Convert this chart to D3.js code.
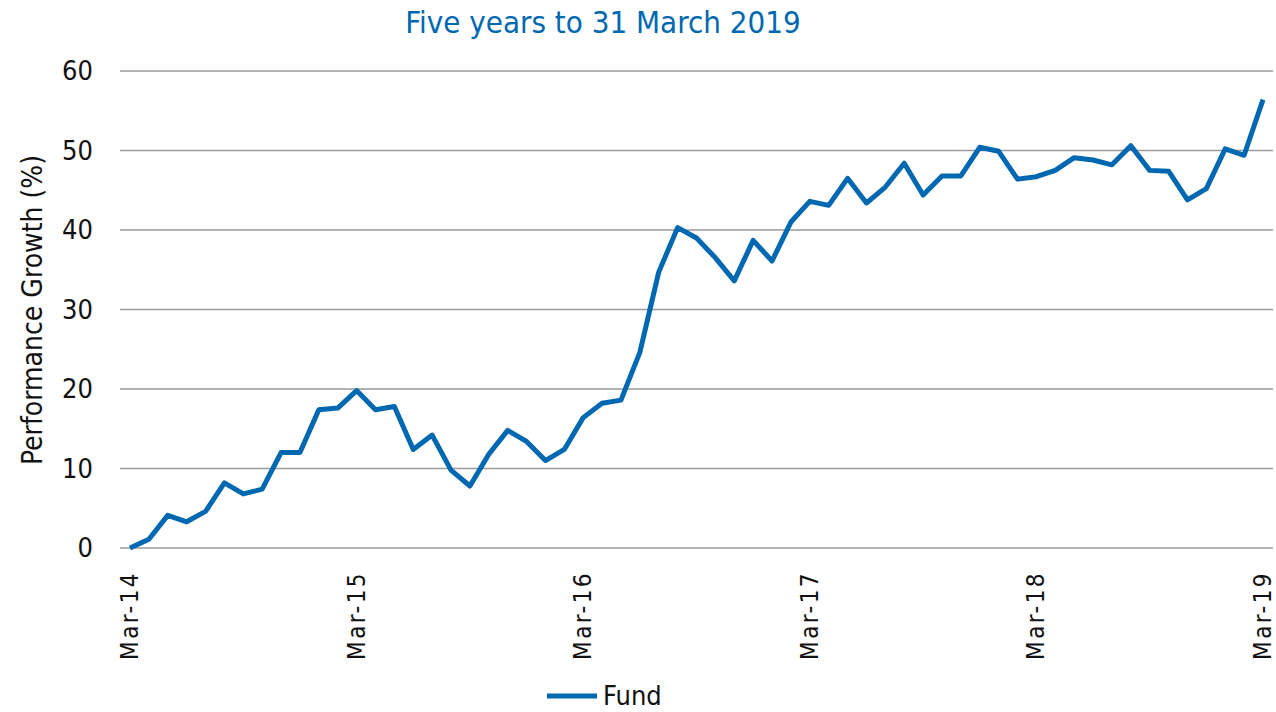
<!DOCTYPE html>
<html lang="en">
<head>
<meta charset="UTF-8">
<title>Performance Growth</title>
<script src="https://d3js.org/d3.v7.min.js"></script>
<style>
  body { margin: 0; background: #fff; }
  text { font-family: "Liberation Sans Narrow", "DejaVu Sans Condensed", "Roboto", sans-serif; }
</style>
</head>
<body>
<div id="chart"></div>
<script>
// monthly fund growth (%), Mar-14 .. Mar-19
const months = d3.range(61);
const fund = [
  0, 1.1, 4.1, 3.3, 4.6, 8.2, 6.8, 7.4, 12.0, 12.0,
  17.4, 17.6, 19.8, 17.4, 17.8, 12.4, 14.2, 9.8, 7.8, 11.8,
  14.8, 13.4, 11.0, 12.4, 16.4, 18.2, 18.6, 24.6, 34.7, 40.3,
  39.0, 36.5, 33.6, 38.7, 36.1, 41.0, 43.6, 43.1, 46.5, 43.4,
  45.4, 48.4, 44.4, 46.8, 46.8, 50.4, 49.9, 46.4, 46.7, 47.5,
  49.1, 48.8, 48.2, 50.6, 47.5, 47.4, 43.8, 45.2, 50.2, 49.4,
  56.4
];
const yTicks = [0, 10, 20, 30, 40, 50, 60];
const xTickIdx = [0, 12, 24, 36, 48, 60];
const xTickLabels = ["Mar-14", "Mar-15", "Mar-16", "Mar-17", "Mar-18", "Mar-19"];

const width = 1276, height = 712;
const blue = "#0068b0";

const svg = d3.select("#chart").append("svg")
  .attr("width", width)
  .attr("height", height);

const x = d3.scaleLinear().domain([0, 60]).range([130, 1263]);
const y = d3.scaleLinear().domain([0, 60]).range([548, 71]);

// gridlines
svg.append("g")
  .selectAll("line")
  .data(yTicks)
  .enter().append("line")
  .attr("x1", 120)
  .attr("x2", 1273)
  .attr("y1", d => y(d))
  .attr("y2", d => y(d))
  .attr("stroke", "#9a9a9a")
  .attr("stroke-width", 1.6);

// y labels
svg.append("g")
  .selectAll("text")
  .data(yTicks)
  .enter().append("text")
  .attr("x", 93)
  .attr("y", d => y(d))
  .attr("dy", "0.35em")
  .attr("text-anchor", "end")
  .style("font-size", "27px")
  .attr("fill", "#111")
  .text(d => d);

// x labels (rotated)
svg.append("g")
  .selectAll("text")
  .data(xTickIdx)
  .enter().append("text")
  .attr("transform", d => "translate(" + (x(d) + 8) + ",571) rotate(-90)")
  .attr("text-anchor", "end")
  .style("font-size", "24px")
  .style("letter-spacing", "2.4px")
  .attr("fill", "#111")
  .text((d, i) => xTickLabels[i]);

// axis title
svg.append("text")
  .attr("transform", "translate(42,310) rotate(-90)")
  .attr("text-anchor", "middle")
  .style("font-size", "28px")
  .attr("fill", "#111")
  .text("Performance Growth (%)");

// chart title
svg.append("text")
  .attr("x", 603)
  .attr("y", 33)
  .attr("text-anchor", "middle")
  .style("font-size", "31px")
  .attr("fill", blue)
  .text("Five years to 31 March 2019");

// line
const line = d3.line()
  .x((d, i) => x(months[i]))
  .y(d => y(d));

svg.append("path")
  .datum(fund)
  .attr("d", line)
  .attr("fill", "none")
  .attr("stroke", blue)
  .attr("stroke-width", 5)
  .attr("stroke-linejoin", "round");

// legend
svg.append("line")
  .attr("x1", 547).attr("x2", 597)
  .attr("y1", 696).attr("y2", 696)
  .attr("stroke", blue)
  .attr("stroke-width", 5);
svg.append("text")
  .attr("x", 603)
  .attr("y", 705)
  .style("font-size", "27px")
  .attr("fill", "#111")
  .text("Fund");
</script>
</body>
</html>
